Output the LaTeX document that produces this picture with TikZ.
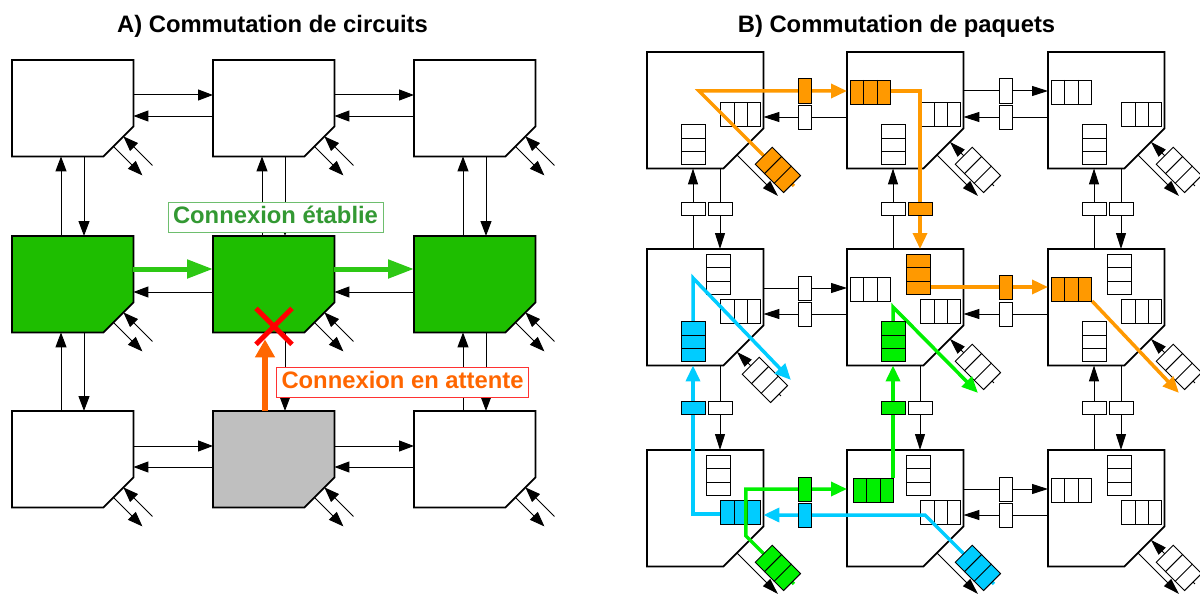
\documentclass[tikz,border=0pt]{standalone}
\usepackage{fontspec}
\setmainfont{Liberation Sans}
\usetikzlibrary{arrows.meta,calc}

\definecolor{rtgreen}{RGB}{30,190,0}
\definecolor{cxgreen}{RGB}{45,200,20}
\definecolor{lbgreen}{RGB}{51,153,51}
\definecolor{lbgreenbd}{RGB}{110,190,110}
\definecolor{cxorange}{RGB}{255,102,0}
\definecolor{lbredbd}{RGB}{255,50,50}
\definecolor{rtgray}{RGB}{191,191,191}
\definecolor{pkorange}{RGB}{255,153,0}
\definecolor{pkblue}{RGB}{0,204,255}
\definecolor{pkgreen}{RGB}{0,240,0}

% router outline with the cut south east corner
\newcommand{\routerpath}[3]{%
    \draw[line width=1.8pt, fill=#3] (#1.north west) -- (#1.north east)
        -- ($(#1.south east)+(0,-#2)$) -- ($(#1.south east)+(-#2,0)$)
        -- (#1.south west) -- cycle;}

% three cell queues: cells along the node's x axis (h) or stacked (v)
\newcommand{\queueh}[3][]{%
    \node[fifo, minimum width=40pt, minimum height=24pt, #1] (#2) at (#3) {};
    \draw[line width=1pt]
        ($(#2.north west)!1/3!(#2.north east)$) -- ($(#2.south west)!1/3!(#2.south east)$)
        ($(#2.north west)!2/3!(#2.north east)$) -- ($(#2.south west)!2/3!(#2.south east)$);}
\newcommand{\queuev}[3][]{%
    \node[fifo, minimum width=24pt, minimum height=40pt, #1] (#2) at (#3) {};
    \draw[line width=1pt]
        ($(#2.north west)!1/3!(#2.south west)$) -- ($(#2.north east)!1/3!(#2.south east)$)
        ($(#2.north west)!2/3!(#2.south west)$) -- ($(#2.north east)!2/3!(#2.south east)$);}

\tikzset{
    router/.style={minimum width=121pt, minimum height=96pt, inner sep=0pt, anchor=north west},
    prouter/.style={minimum width=116pt, minimum height=116pt, inner sep=0pt, anchor=north west},
    wire/.style={line width=1pt, -{Triangle[length=15pt,width=11pt]}},
    pwire/.style={line width=1pt, -{Triangle[length=16pt,width=10pt]}},
    estab/.style={line width=5pt, cxgreen, -{Triangle[length=26pt,width=18pt]}},
    waiting/.style={line width=5.5pt, cxorange, -{Triangle[length=18pt,width=19pt]}},
    xmark/.style={line width=5pt, red},
    lbl/.style={fill=white, line width=0.8pt, font=\bfseries\fontsize{23.8}{24}\selectfont,
        text height=17pt, text depth=5pt, inner xsep=5pt, inner ysep=0pt, minimum height=30pt},
    ttl/.style={font=\bfseries\fontsize{23.8}{24}\selectfont, inner sep=0pt, anchor=base},
    fifo/.style={draw, line width=1pt, fill=white, inner sep=0pt},
    lbufh/.style={draw, line width=1pt, fill=white, inner sep=0pt, minimum width=13pt, minimum height=24pt},
    lbufv/.style={draw, line width=1pt, fill=white, inner sep=0pt, minimum width=24pt, minimum height=13pt},
    opath/.style={line width=3.5pt, pkorange, -{Triangle[length=16pt,width=14pt]}},
    bpath/.style={line width=3.5pt, pkblue, -{Triangle[length=16pt,width=14pt]}},
    gpath/.style={line width=3.5pt, pkgreen, -{Triangle[length=16pt,width=14pt]}}
}

\begin{document}
\begin{tikzpicture}[x=1pt,y=-1pt]
\useasboundingbox (0,0) rectangle (1200,594);

% A) circuits
\node[ttl] (titleA) at (272.5,33) {A) Commutation de circuits};

\foreach \c in {0,1,2}{
    \foreach \r in {0,1,2}{
        \pgfmathtruncatemacro{\x}{12+201*\c}
        \pgfmathtruncatemacro{\y}{{60,236,411}[\r]}
        \node[router] (a\c\r) at (\x,\y) {};
    }
}

\foreach \n/\f in {a00/white, a10/white, a20/white, a01/rtgreen, a11/rtgreen,
                   a21/rtgreen, a02/white, a12/rtgray, a22/white}{
    \routerpath{\n}{30}{\f}
}

\foreach \u/\v in {a00/a10, a10/a20, a02/a12, a12/a22}{
    \draw[wire] ($(\u.north east)+(0,35)$) -- ($(\v.north west)+(0,35)$);
}
\foreach \u/\v in {a01/a11, a11/a21}{
    \draw[estab] ($(\u.north east)+(0,33)$) -- ($(\v.north west)+(0,33)$);
}
\foreach \u/\v in {a10/a00, a20/a10, a11/a01, a21/a11, a12/a02, a22/a12}{
    \draw[wire] ($(\u.north west)+(0,56)$) -- ($(\v.north east)+(0,56)$);
}
\foreach \u/\v in {a00/a01, a01/a02, a10/a11, a11/a12, a20/a21, a21/a22}{
    \draw[wire] ($(\u.south west)+(72,0)$) -- ($(\v.north west)+(72,0)$);
}
\foreach \u/\v in {a01/a00, a02/a01, a11/a10, a21/a20, a22/a21}{
    \draw[wire] ($(\u.north west)+(49,0)$) -- ($(\v.south west)+(49,0)$);
}

\foreach \n in {a00,a10,a20,a01,a11,a21,a02,a12,a22}{
    \draw[wire] ($(\n.south east)+(-20,-10)$) -- ++(29,29);
    \draw[wire] ($(\n.south east)+(19,9)$) -- ++(-29,-29);
}

\coordinate (blocked) at ($(a11.south west)+(61,-6)$);
\draw[waiting] ($(a12.north west)+(52,0)$) -- ($(a11.south west)+(52,7)$);
\draw[xmark] ($(blocked)+(-18,-18)$) -- ($(blocked)+(18,18)$)
             ($(blocked)+(-18,18)$) -- ($(blocked)+(18,-18)$);

\node[lbl, draw=lbgreenbd, text=lbgreen] (estabLbl) at (275.5,217) {Connexion établie};
\node[lbl, draw=lbredbd, text=cxorange] (waitLbl) at (402.5,382.5) {Connexion en attente};

% B) paquets
\node[ttl] (titleB) at (896.5,33) {B) Commutation de paquets};

\foreach \c in {0,1,2}{
    \foreach \r in {0,1,2}{
        \pgfmathtruncatemacro{\x}{647+200.5*\c}
        \pgfmathtruncatemacro{\y}{{52,249,450}[\r]}
        \node[prouter] (p\c\r) at (\x,\y) {};
        \routerpath{p\c\r}{40}{white}
    }
}

% local port points (p01 has them swapped)
\foreach \n/\s in {p00/0, p10/0, p20/0, p01/1, p11/0, p21/0, p02/0, p12/0, p22/0}{
    \coordinate (\n-tip) at ($(\n.south east)+(-13.5-13*\s,-26.5+13*\s)$);
    \coordinate (\n-far) at ($(\n-tip)+(44,44)$);
    \coordinate (\n-mid) at ($(\n-tip)+(28,28)$);
    \coordinate (\n-out) at ($(\n.south east)+(-26.5+13*\s,-13.5-13*\s)$);
    \coordinate (\n-end) at ($(\n-out)+(41,41)$);
}

\foreach \u/\v in {p10/p20, p01/p11, p12/p22}{
    \draw[pwire] ($(\u.north east)+(0,39)$) -- node[lbufh] (\u\v) {} ($(\v.north west)+(0,39)$);
}
\foreach \u/\v in {p10/p00, p20/p10, p11/p01, p21/p11, p22/p12}{
    \draw[pwire] ($(\u.north west)+(0,65)$) -- node[lbufh] (\u\v) {} ($(\v.north east)+(0,65)$);
}
\foreach \u/\v in {p00/p01, p20/p21, p01/p02, p11/p12, p21/p22}{
    \draw[pwire] ($(\u.south west)+(73,0)$) -- node[lbufv] (\u\v) {} ($(\v.north west)+(73,0)$);
}
\foreach \u/\v in {p01/p00, p11/p10, p21/p20, p22/p21}{
    \draw[pwire] ($(\u.north west)+(46,0)$) -- node[lbufv] (\u\v) {} ($(\v.south west)+(46,0)$);
}

\foreach \n in {p00, p10, p20, p02, p12, p22}{
    \draw[pwire] (\n-out) -- (\n-end);
}
\foreach \n in {p10, p20, p01, p11, p21, p22}{
    \draw[pwire] (\n-far) -- (\n-tip);
    \queueh[rotate=-45]{\n-loc}{\n-mid}
}

\foreach \n in {p20, p11, p22}{
    \queueh[anchor=north west]{\n-w}{$(\n.north west)+(3,28)$}
}
\foreach \n in {p00, p10, p20, p01, p11, p21, p12, p22}{
    \queueh[anchor=north east]{\n-e}{$(\n.north east)+(-2,50)$}
}
\foreach \n in {p01, p21, p02, p12, p22}{
    \queuev[anchor=north west]{\n-n}{$(\n.north west)+(59,5)$}
}
\foreach \n in {p00, p10, p20, p21}{
    \queuev[anchor=south west]{\n-s}{$(\n.south west)+(34,-3)$}
}

% blue packet
\coordinate (p12-bend) at ($(p12.north west)+(78,65)$);
\draw[bpath] (p12-far) -- (p12-bend) -- ($(p02.north east)+(0,65)$);
\draw[bpath] ($(p02.north east)+(-42,64)$) -- ($(p02.north west)+(46,64)$) -- ($(p01.south west)+(46,0)$);
\draw[bpath] ($(p01.south west)+(46,-43)$) -- ($(p01.north west)+(46,29)$) -- (p01-end);
\node[lbufh, fill=pkblue] (p12p02) at ($(p02.north east)!.5!(p12.north west)+(0,65)$) {};
\node[lbufv, fill=pkblue] (p02p01) at ($(p01.south west)!.5!(p02.north west)+(46,0)$) {};
\queueh[fill=pkblue, rotate=-45]{p12-loc}{p12-mid}
\queueh[fill=pkblue, anchor=north east]{p02-e}{$(p02.north east)+(-2,50)$}
\queuev[fill=pkblue, anchor=south west]{p01-s}{$(p01.south west)+(34,-3)$}

% orange packet
\coordinate (p00-bend) at ($(p00.north west)+(52,39)$);
\draw[opath] (p00-far) -- (p00-bend) -- ($(p10.north west)+(0,39)$);
\draw[opath] ($(p10.north west)+(44,39)$) -- ($(p10.north west)+(73,39)$) -- ($(p11.north west)+(73,0)$);
\draw[opath] ($(p11.north west)+(84,38)$) -- ($(p21.north west)+(0,38)$);
\draw[opath] ($(p21.north west)+(44,52)$) -- (p21-end);
\node[lbufh, fill=pkorange] (p00p10) at ($(p00.north east)!.5!(p10.north west)+(0,39)$) {};
\node[lbufv, fill=pkorange] (p10p11) at ($(p10.south west)!.5!(p11.north west)+(73,0)$) {};
\node[lbufh, fill=pkorange] (p11p21) at ($(p11.north east)!.5!(p21.north west)+(0,38)$) {};
\queueh[fill=pkorange, rotate=-45]{p00-loc}{p00-mid}
\queueh[fill=pkorange, anchor=north west]{p10-w}{$(p10.north west)+(3,28)$}
\queuev[fill=pkorange, anchor=north west]{p11-n}{$(p11.north west)+(59,5)$}
\queueh[fill=pkorange, anchor=north west]{p21-w}{$(p21.north west)+(3,28)$}

% green packet
\coordinate (p02-bend) at ($(p02-tip)+(-4,-4)$);
\coordinate (p02-up) at ($(p02.north west)+(0,39)$);
\draw[gpath] (p02-far) -- (p02-bend) -- (p02-bend |- p02-up) -- ($(p12.north west)+(0,39)$);
\draw[gpath] ($(p12.north west)+(46,28)$) -- ($(p11.south west)+(46,0)$);
\draw[gpath] ($(p11.south west)+(46,-43)$) -- ($(p11.north west)+(46,58)$) -- (p11-end);
\node[lbufh, fill=pkgreen] (p02p12) at ($(p02.north east)!.5!(p12.north west)+(0,39)$) {};
\node[lbufv, fill=pkgreen] (p12p11) at ($(p11.south west)!.5!(p12.north west)+(46,0)$) {};
\queueh[fill=pkgreen, rotate=-45]{p02-loc}{p02-mid}
\queueh[fill=pkgreen, anchor=north west]{p12-w}{$(p12.north west)+(6,28)$}
\queuev[fill=pkgreen, anchor=south west]{p11-s}{$(p11.south west)+(34,-3)$}

\end{tikzpicture}
\end{document}
